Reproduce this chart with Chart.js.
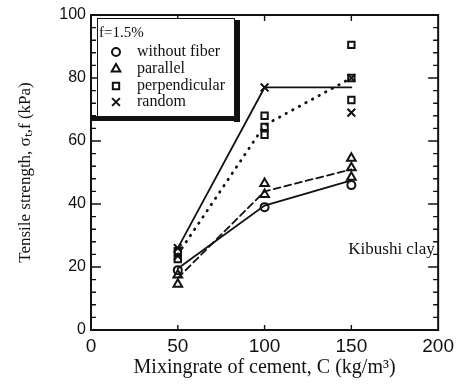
<!DOCTYPE html>
<html>
<head>
<meta charset="utf-8">
<script src="https://cdn.jsdelivr.net/npm/chart.js@4/dist/chart.umd.min.js"></script>
<style>
  body { margin: 0; background: #fff; }
</style>
</head>
<body>
<canvas id="graficoTracao" width="459" height="385"></canvas>
<script>
// Taxas de cimento (kg/m3) usadas nas linhas médias
const cementRates = [50, 100, 150];

// Pontos medidos [C, resistência kPa] por tipo de fibra
const withoutFiberPts = [[50, 19], [100, 39], [150, 46]];
const parallelPts = [[50, 14.5], [50, 17.5], [100, 46.5], [100, 43], [150, 54.5], [150, 51.5], [150, 48.5]];
const perpendicularPts = [[50, 25], [50, 22.5], [100, 68], [100, 64.5], [100, 62], [150, 90.5], [150, 80], [150, 73]];
const randomPts = [[50, 26], [50, 23.5], [100, 77], [150, 80], [150, 69]];

// Linhas médias (mesma ordem de cementRates)
const withoutFiberLine = [19.5, 39.5, 47.5];
const parallelLine = [16.5, 44, 51];
const perpendicularLine = [24, 65, 80];
const randomLine = [26, 77, 77];

// Legenda
const legendTitle = 'f=1.5%';
const legendLabels = ['without fiber', 'parallel', 'perpendicular', 'random'];
const soilLabel = 'Kibushi clay';

const toXY = arr => arr.map(p => ({ x: p[0], y: p[1] }));
const lineXY = vals => vals.map((v, i) => ({ x: cementRates[i], y: v }));

const serif = '"Liberation Serif", "Times New Roman", serif';
const sans = '"Liberation Sans", Arial, sans-serif';
const ink = '#111';

const markers = [
  { style: 'circle', radius: 4 },
  { style: 'triangle', radius: 5 },
  { style: 'rect', radius: 4.5 },
  { style: 'crossRot', radius: 5.5 }
];

function lineSet(vals, dash, width) {
  return {
    data: lineXY(vals),
    showLine: true,
    borderColor: ink,
    borderWidth: width,
    borderDash: dash,
    borderCapStyle: 'round',
    pointRadius: 0,
    fill: false
  };
}

function pointSet(pts, m) {
  return {
    data: toXY(pts),
    showLine: false,
    pointStyle: m.style,
    pointRadius: m.radius,
    pointBorderColor: ink,
    pointBackgroundColor: 'rgba(255,255,255,0)',
    pointBorderWidth: 2
  };
}

// Ticks internos (maiores a cada 20, menores a cada 4) e moldura
const frameTicks = {
  id: 'frameTicks',
  afterDraw(chart) {
    const { ctx, chartArea: a, scales } = chart;
    const xs = scales.x, ys = scales.y;
    ctx.save();
    ctx.strokeStyle = ink;
    ctx.lineWidth = 2;
    ctx.strokeRect(a.left, a.top, a.right - a.left, a.bottom - a.top);
    ctx.lineWidth = 1.4;
    ctx.beginPath();
    for (let v = 4; v < 100; v += 4) {
      const y = ys.getPixelForValue(v);
      const len = v % 20 === 0 ? 10 : 5;
      ctx.moveTo(a.left, y); ctx.lineTo(a.left + len, y);
      ctx.moveTo(a.right, y); ctx.lineTo(a.right - len, y);
    }
    for (let v = 50; v < 200; v += 50) {
      const x = xs.getPixelForValue(v);
      ctx.moveTo(x, a.bottom); ctx.lineTo(x, a.bottom - 5);
      ctx.moveTo(x, a.top); ctx.lineTo(x, a.top + 6);
    }
    ctx.stroke();
    ctx.restore();
  }
};

// Caixa de legenda com sombra e rótulo do solo
const legendBox = {
  id: 'legendBox',
  afterDraw(chart) {
    const { ctx, scales } = chart;
    const ys = scales.y, xs = scales.x;
    const left = 97, top = 18, right = 234, bottom = 116;
    ctx.save();
    ctx.fillStyle = '#fff';
    ctx.fillRect(left, top, right - left, bottom - top);
    ctx.strokeStyle = ink;
    ctx.lineWidth = 1;
    ctx.strokeRect(left + 0.5, top + 0.5, right - left, bottom - top);
    ctx.fillStyle = ink;
    ctx.fillRect(right, top + 2, 6, bottom - top + 4);
    ctx.fillRect(91, bottom, right - 91 + 6, 5);

    ctx.font = '15px ' + serif;
    ctx.textBaseline = 'middle';
    ctx.textAlign = 'left';
    ctx.fillText(legendTitle, 99, 33);
    const rows = [52, 69, 86, 102];
    legendLabels.forEach((lbl, i) => {
      const m = markers[i];
      ctx.fillStyle = '#fff';
      ctx.strokeStyle = ink;
      ctx.lineWidth = 2;
      Chart.helpers.drawPoint(ctx, { pointStyle: m.style, radius: m.radius, borderWidth: 2, rotation: 0 }, 116, rows[i]);
      ctx.fillStyle = ink;
      ctx.font = '16px ' + serif;
      ctx.fillText(lbl, 137, rows[i]);
    });

    ctx.font = '17px ' + serif;
    ctx.textAlign = 'right';
    ctx.fillText(soilLabel, xs.getPixelForValue(198), ys.getPixelForValue(25.4));
    ctx.restore();
  }
};

const ctx = document.getElementById('graficoTracao').getContext('2d');
new Chart(ctx, {
  type: 'scatter',
  data: {
    datasets: [
      lineSet(withoutFiberLine, [], 1.8),
      lineSet(parallelLine, [7, 4], 1.8),
      lineSet(perpendicularLine, [0.5, 7], 2.8),
      lineSet(randomLine, [], 1.8),
      pointSet(withoutFiberPts, markers[0]),
      pointSet(parallelPts, markers[1]),
      pointSet(perpendicularPts, markers[2]),
      pointSet(randomPts, markers[3])
    ]
  },
  options: {
    responsive: false,
    animation: false,
    layout: { padding: { top: 15, right: 13, left: 0, bottom: 0 } },
    plugins: {
      legend: { display: false },
      tooltip: { enabled: false }
    },
    scales: {
      x: {
        type: 'linear',
        min: 0,
        max: 200,
        afterFit: s => { s.height = 55; },
        border: { display: true, color: ink, width: 2 },
        grid: { drawOnChartArea: false, drawTicks: false },
        ticks: { stepSize: 50, padding: 5, color: ink, font: { family: sans, size: 19 } },
        title: {
          display: true,
          text: 'Mixingrate of cement, C (kg/m³)',
          color: ink,
          font: { family: serif, size: 20 },
          padding: { top: 0, bottom: 5 }
        }
      },
      y: {
        min: 0,
        max: 100,
        afterFit: s => { s.width = 91; },
        border: { display: true, color: ink, width: 2 },
        grid: { drawOnChartArea: false, drawTicks: false },
        ticks: { stepSize: 20, padding: 5, color: ink, font: { family: sans, size: 16 } },
        title: {
          display: true,
          text: 'Tensile strength, σₜ,f (kPa)',
          color: ink,
          font: { family: serif, size: 17 },
          padding: { top: 15, bottom: 0 }
        }
      }
    }
  },
  plugins: [frameTicks, legendBox]
});
</script>
</body>
</html>
